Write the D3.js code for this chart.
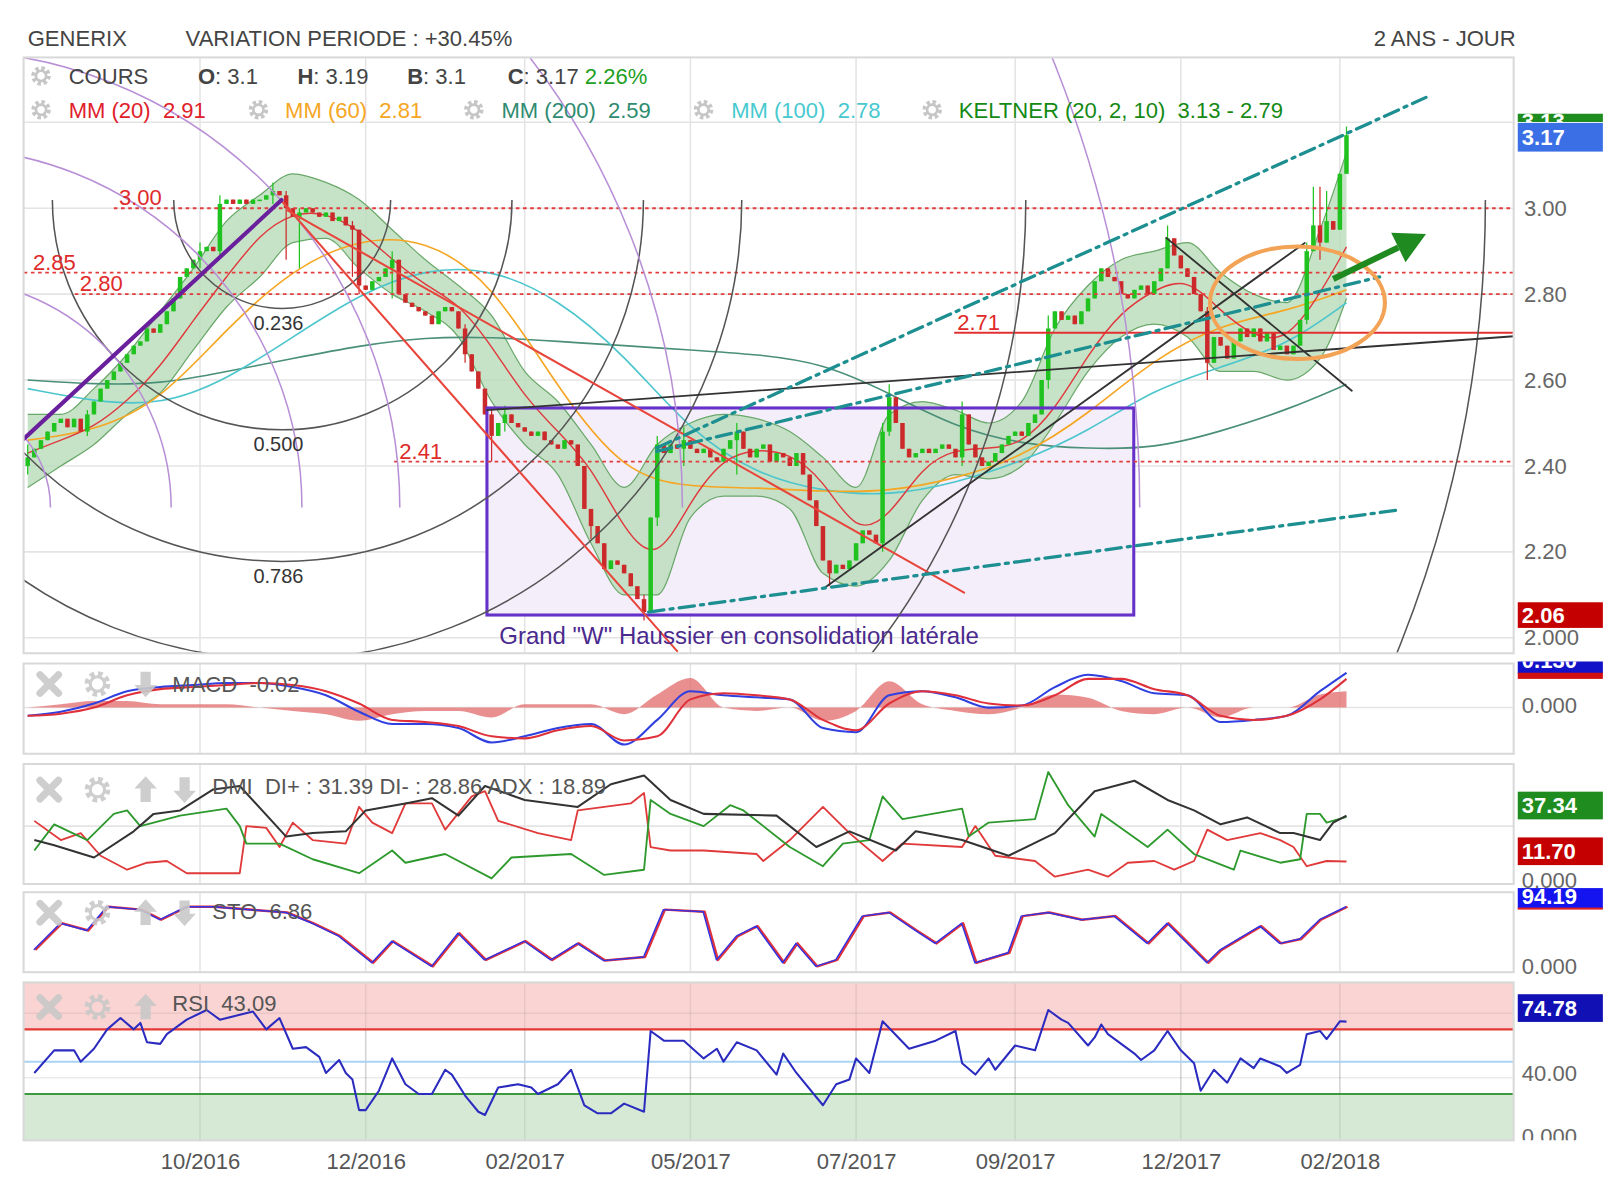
<!DOCTYPE html>
<html>
<head>
<meta charset="utf-8">
<script src="https://cdn.jsdelivr.net/npm/d3@7"></script>
<style>
  html, body { margin: 0; padding: 0; background: #fff; }
  svg { display: block; font-family: "Liberation Sans", Arial, sans-serif; }
</style>
</head>
<body>
<svg id="chart" width="1608" height="1186" viewBox="0 0 1568 1156.5"></svg>
<script>
// ---- data ----
const tickIdx = [26, 51, 75, 100, 125, 149, 174, 198];
const tickLabels = ["10/2016", "12/2016", "02/2017", "05/2017", "07/2017", "09/2017", "12/2017", "02/2018"];

const firstOpen = 2.40;
const closes = [
  2.42,2.44,2.46,2.48,2.50,2.51,2.49,2.51,2.48,2.52,
  2.55,2.58,2.60,2.62,2.64,2.66,2.68,2.69,2.72,2.71,
  2.73,2.76,2.79,2.84,2.86,2.88,2.90,2.91,2.90,3.01,
  3.02,3.01,3.02,3.01,3.02,3.02,3.03,3.04,3.03,3.00,
  2.98,2.99,3.00,2.99,2.98,2.99,2.97,2.98,2.96,2.95,
  2.82,2.81,2.83,2.84,2.86,2.88,2.80,2.78,2.77,2.76,
  2.75,2.73,2.76,2.77,2.76,2.72,2.66,2.62,2.58,2.52,
  2.47,2.50,2.52,2.50,2.49,2.48,2.47,2.48,2.46,2.45,
  2.44,2.46,2.45,2.40,2.30,2.26,2.22,2.16,2.18,2.17,
  2.15,2.12,2.09,2.06,2.28,2.45,2.43,2.45,2.44,2.46,
  2.44,2.43,2.44,2.42,2.41,2.44,2.46,2.48,2.44,2.42,
  2.44,2.45,2.41,2.43,2.42,2.40,2.43,2.38,2.32,2.26,
  2.18,2.15,2.17,2.16,2.18,2.22,2.25,2.24,2.22,2.48,
  2.56,2.50,2.44,2.42,2.43,2.44,2.43,2.44,2.45,2.44,
  2.42,2.52,2.45,2.42,2.40,2.41,2.43,2.45,2.47,2.48,
  2.47,2.50,2.52,2.60,2.72,2.76,2.74,2.75,2.73,2.76,
  2.79,2.83,2.86,2.84,2.83,2.80,2.79,2.81,2.82,2.80,
  2.83,2.86,2.93,2.89,2.86,2.84,2.80,2.76,2.64,2.70,
  2.68,2.65,2.69,2.72,2.70,2.72,2.69,2.71,2.67,2.68,
  2.66,2.68,2.74,2.90,2.96,2.92,2.97,2.95,3.08,3.17
];
// [index, high, low] for candles with visible wicks
const wicks = [
  [0,2.45,2.38],[9,2.53,2.47],[26,2.92,2.86],[29,3.03,2.89],[37,3.06,3.01],[39,3.04,2.88],
  [41,3.00,2.86],[49,2.97,2.84],[50,2.95,2.80],[55,2.90,2.79],[66,2.73,2.64],[70,2.53,2.41],
  [72,2.54,2.48],[85,2.30,2.23],[93,2.10,2.04],[95,2.47,2.26],[99,2.49,2.40],[107,2.50,2.38],
  [121,2.18,2.12],[129,2.50,2.20],[130,2.59,2.47],[141,2.55,2.40],[154,2.75,2.58],[172,2.96,2.86],
  [178,2.77,2.60],[193,2.92,2.73],[194,3.05,2.90],[195,3.05,2.88],[196,3.04,2.92],[199,3.19,3.10]
];

const maIdx = [0,10,20,30,40,50,60,70,80,90,100,110,120,130,140,150,160,170,180,190,199];
const ma60  = [2.46,2.48,2.55,2.72,2.86,2.93,2.93,2.83,2.58,2.38,2.35,2.35,2.34,2.34,2.37,2.42,2.52,2.65,2.73,2.76,2.81];
const ma100 = [2.58,2.55,2.54,2.60,2.70,2.80,2.86,2.86,2.79,2.66,2.48,2.38,2.34,2.33,2.36,2.41,2.48,2.58,2.63,2.68,2.78];
const ma200 = [2.60,2.59,2.59,2.62,2.65,2.68,2.70,2.70,2.69,2.68,2.67,2.66,2.64,2.57,2.49,2.45,2.44,2.44,2.48,2.53,2.59];

const idx5 = [0,5,10,15,20,25,30,35,40,45,50,55,60,65,70,75,80,85,90,95,100,105,110,115,120,125,130,135,140,145,150,155,160,165,170,175,180,185,190,195,199];
const ma20 = [2.43,2.46,2.49,2.55,2.63,2.74,2.84,2.94,2.99,2.99,2.95,2.88,2.82,2.78,2.68,2.56,2.48,2.40,2.25,2.17,2.32,2.42,2.44,2.43,2.37,2.24,2.28,2.40,2.44,2.44,2.45,2.53,2.66,2.76,2.81,2.84,2.76,2.70,2.69,2.80,2.91];
const keltUp = [2.52,2.52,2.58,2.66,2.76,2.86,2.97,3.03,3.08,3.06,3.02,2.95,2.88,2.82,2.75,2.62,2.55,2.45,2.35,2.45,2.50,2.52,2.51,2.48,2.42,2.35,2.52,2.55,2.53,2.50,2.55,2.72,2.82,2.88,2.90,2.92,2.85,2.80,2.78,2.95,3.13];
const keltLo = [2.35,2.40,2.45,2.52,2.57,2.67,2.77,2.84,2.92,2.93,2.86,2.80,2.76,2.70,2.55,2.45,2.38,2.22,2.10,2.10,2.28,2.33,2.33,2.30,2.15,2.12,2.18,2.32,2.38,2.37,2.40,2.50,2.62,2.70,2.73,2.70,2.62,2.62,2.60,2.65,2.79];

const macd   = [-0.02,-0.01,0.01,0.04,0.05,0.055,0.06,0.06,0.05,0.03,-0.01,-0.04,-0.04,-0.05,-0.085,-0.07,-0.05,-0.04,-0.09,-0.03,0.04,0.03,0.025,0.02,-0.05,-0.06,0.03,0.04,0.025,0.0,0.005,0.05,0.08,0.065,0.035,0.03,-0.035,-0.03,-0.02,0.04,0.085];
const signal = [-0.02,-0.015,0.0,0.03,0.045,0.05,0.055,0.06,0.055,0.04,0.01,-0.03,-0.035,-0.045,-0.07,-0.075,-0.055,-0.045,-0.08,-0.07,0.02,0.035,0.03,0.02,-0.03,-0.055,0.01,0.04,0.03,0.01,0.005,0.03,0.07,0.07,0.045,0.03,-0.02,-0.03,-0.02,0.02,0.07];
const hist   = [0,0.005,0.01,0.01,0.005,0.005,0.005,0,-0.005,-0.01,-0.02,-0.01,-0.005,-0.005,-0.015,0.005,0.005,0.005,-0.01,0.02,0.045,0,-0.005,0,-0.02,-0.005,0.04,0.005,-0.005,-0.01,0,0.02,0.015,-0.005,-0.01,0,-0.015,0,0,0.02,0.025];

const diPlusIdx = [1,4,9,13,15,17,23,30,32,33,38,43,50,55,57,63,70,73,82,87,93,94,97,102,106,108,115,120,123,127,129,132,141,142,145,152,154,157,161,162,169,172,176,182,183,189,192,193,195,196,199];
const diPlus    = [18,33,24,39,41,32,38,42,32,22,22,13,5,18,11,16,2,14,16,4,7,47,39,32,44,41,20,9,22,24,49,36,42,26,34,36,63,44,26,39,20,30,16,7,18,11,13,39,39,34,37.34];
const diMinusIdx = [1,5,8,11,15,18,21,24,32,33,36,38,40,43,48,50,52,55,57,61,63,67,69,71,77,82,83,91,93,94,97,102,110,111,115,120,124,129,132,141,143,146,152,155,160,163,166,170,173,176,178,181,186,189,191,193,196,199];
const diMinus    = [35,24,28,15,7,11,12,5,5,32,31,20,34,24,22,43,34,28,45,45,30,49,52,35,28,24,41,45,51,20,18,18,16,12,24,43,28,12,22,20,32,15,12,3,7,3,11,12,7,12,30,24,28,24,20,9,12,11.7];
const adxIdx = [1,4,10,16,19,23,28,32,39,43,48,51,57,61,65,69,75,83,88,93,97,102,113,119,124,131,134,141,148,155,161,167,172,176,180,184,189,191,195,197,199];
const adx    = [24,21,14,29,39,41,53,55,26,28,29,41,45,48,38,55,47,43,56,61,47,39,38,20,29,18,29,24,15,28,52,58,47,41,33,37,28,28,24,34,38];

const stoIdx = [1,5,9,12,17,20,24,28,39,43,47,52,55,61,65,69,75,79,83,87,93,96,102,104,107,110,114,116,119,122,126,130,134,137,141,143,148,150,154,159,164,169,172,178,180,186,189,192,195,199];
const sto    = [24,61,51,84,80,66,84,84,76,61,43,6,36,1,47,10,36,10,33,9,14,80,77,10,43,57,6,33,1,10,71,76,51,33,61,6,20,71,76,66,71,33,61,6,24,57,33,39,66,84];

const rsiIdx = [1,4,7,8,10,12,14,16,17,18,20,21,24,27,29,34,36,38,40,42,44,45,47,48,49,50,51,53,55,57,59,61,63,64,66,68,69,71,74,76,77,80,82,84,86,88,90,93,94,96,99,102,104,105,107,110,113,114,116,120,122,124,125,127,129,133,137,140,141,143,145,146,149,152,154,156,157,160,161,162,163,167,168,170,172,174,176,177,179,181,183,185,186,189,190,192,193,195,196,198,199];
const rsi    = [43,57,57,50,58,70,77,70,74,62,61,67,76,82,76,81,70,77,58,59,53,43,51,43,39,20,20,32,52,36,30,30,45,42,29,19,17,34,36,34,30,36,45,23,18,18,24,19,69,63,63,52,58,50,62,57,42,55,43,23,36,39,52,43,75,58,63,69,49,42,52,45,60,57,82,76,74,60,65,73,67,55,51,57,69,57,49,32,45,37,52,46,52,47,43,48,67,69,64,75,74.78];

// support / resistance levels: [price, start index]
const dottedLevels = [[3.00, 13.0], [2.85, -0.6], [2.80, 7.1], [2.41, 55.3]];
const solidLevel = [2.71, 139.8];
// trend lines: [idx1, price1, idx2, price2]
const purpleLine = [-0.6, 2.463, 38.3, 3.019];
const redLines = [[38.2, 3.019, 98.0, 1.969], [39.2, 2.995, 141.3, 2.105]];
const blackLines = [[69.3, 2.530, 224.3, 2.702], [120.1, 2.115, 192.7, 2.919], [171.8, 2.931, 199.8, 2.575]];
const tealLines = [[94.9, 2.442, 211.0, 3.258], [94.9, 2.434, 204.0, 2.840], [93.7, 2.060, 207.1, 2.298]];
const wBox = [69.3, 2.535, 166.9, 2.053];
const fibLevels = [0.236, 0.5, 0.786, 1, 1.618, 2.618];
const fibLabels = ["0.236", "0.500", "0.786"];
const fibBlack = {i: 38.4, p: 3.019, r: 69.35};
const fibPurple = {i: -12.85, p: 2.303, r: 69.0};

// ---- layout ----
const FS = 21.5;
const svg = d3.select("#chart");
const X0 = 23, X1 = 1476;
const P = {
  main: {top: 56, bottom: 637},
  macd: {top: 647, bottom: 735},
  dmi:  {top: 745, bottom: 862},
  sto:  {top: 870, bottom: 948},
  rsi:  {top: 958, bottom: 1112}
};
const x = d3.scaleLinear().domain([0, 199]).range([27, 1313]);
const y = d3.scaleLinear().domain([1.964, 3.351]).range([P.main.bottom, P.main.top]);
const yMacd = d3.scaleLinear().domain([-0.1125, 0.1075]).range([P.macd.bottom, P.macd.top]);
const yDmi = d3.scaleLinear().domain([-1.18, 67.6]).range([P.dmi.bottom, P.dmi.top]);
const ySto = d3.scaleLinear().domain([-7.14, 104.3]).range([P.sto.bottom, P.sto.top]);
const yRsi = d3.scaleLinear().domain([1.27, 99.05]).range([P.rsi.bottom, P.rsi.top]);

const defs = svg.append("defs");
Object.entries(P).forEach(([k, p]) => {
  defs.append("clipPath").attr("id", "clip-" + k)
    .append("rect").attr("x", X0).attr("y", p.top).attr("width", X1 - X0).attr("height", p.bottom - p.top);
});

svg.append("rect").attr("width", 1568).attr("height", 1157).attr("fill", "#fff");

// header
const header = svg.append("g").attr("fill", "#444").attr("font-size", FS);
header.append("text").attr("x", 27).attr("y", 45).text("GENERIX");
header.append("text").attr("x", 181).attr("y", 45).text("VARIATION PERIODE : +30.45%");
header.append("text").attr("x", 1478).attr("y", 45).attr("text-anchor", "end").text("2 ANS - JOUR");

// panel backgrounds + grids
function panelBase(key, hLines) {
  const p = P[key];
  const g = svg.append("g");
  g.append("rect").attr("x", X0).attr("y", p.top).attr("width", X1 - X0).attr("height", p.bottom - p.top)
    .attr("fill", "#fff");
  const grid = g.append("g").attr("clip-path", `url(#clip-${key})`);
  grid.selectAll("line.v").data(tickIdx).join("line")
    .attr("x1", d => x(d)).attr("x2", d => x(d)).attr("y1", p.top).attr("y2", p.bottom)
    .attr("stroke", "#e4e4e4").attr("stroke-width", 1.5);
  (hLines || []).forEach(h => {
    grid.append("line").attr("x1", X0).attr("x2", X1).attr("y1", h.y).attr("y2", h.y)
      .attr("stroke", h.c || "#e4e4e4").attr("stroke-width", h.w || 1.5);
  });
  return g;
}
function frame(key) {
  const p = P[key];
  svg.append("rect").attr("x", X0).attr("y", p.top).attr("width", X1 - X0).attr("height", p.bottom - p.top)
    .attr("fill", "none").attr("stroke", "#d9d9d9").attr("stroke-width", 2);
}

// ---- main panel ----
panelBase("main", [3.2, 3.0, 2.8, 2.6, 2.4, 2.2, 2.0].map(v => ({y: y(v)})));
const main = svg.append("g").attr("clip-path", "url(#clip-main)");

// consolidation box
main.append("rect")
  .attr("x", x(wBox[0])).attr("y", y(wBox[1]))
  .attr("width", x(wBox[2]) - x(wBox[0])).attr("height", y(wBox[3]) - y(wBox[1]))
  .attr("fill", "#f4eefb");

// Keltner band
const keltData = idx5.map((d, i) => ({i: d, up: keltUp[i], lo: keltLo[i]}));
main.append("path").datum(keltData)
  .attr("d", d3.area().x(d => x(d.i)).y0(d => y(d.lo)).y1(d => y(d.up)).curve(d3.curveMonotoneX))
  .attr("fill", "#b9dcb9").attr("fill-opacity", 0.8);
["up", "lo"].forEach(k => {
  main.append("path").datum(keltData)
    .attr("d", d3.line().x(d => x(d.i)).y(d => y(d[k])).curve(d3.curveMonotoneX))
    .attr("fill", "none").attr("stroke", "#6aa86a").attr("stroke-width", 1.2);
});

// moving averages
function maLine(idxArr, vals, color, w) {
  main.append("path").datum(idxArr.map((d, i) => [d, vals[i]]))
    .attr("d", d3.line().x(d => x(d[0])).y(d => y(d[1])).curve(d3.curveBasis))
    .attr("fill", "none").attr("stroke", color).attr("stroke-width", w);
}
maLine(maIdx, ma200, "#4a8f78", 1.6);
maLine(maIdx, ma100, "#4cc6cc", 1.6);
maLine(maIdx, ma60, "#f5a623", 1.6);
maLine(idx5, ma20, "#e0393e", 1.4);

// candles
const candles = closes.map((c, i) => {
  const o = i === 0 ? firstOpen : closes[i - 1];
  const w = wicks.find(k => k[0] === i);
  return {i, o, c, h: w ? w[1] : Math.max(o, c), l: w ? w[2] : Math.min(o, c)};
});
const bw = (x(1) - x(0)) * 0.68;
const cg = main.append("g");
cg.selectAll("line").data(candles).join("line")
  .attr("x1", d => x(d.i)).attr("x2", d => x(d.i))
  .attr("y1", d => y(d.h)).attr("y2", d => y(d.l))
  .attr("stroke", d => d.c >= d.o ? "#1fc21f" : "#cc2a2a").attr("stroke-width", 1.2);
cg.selectAll("rect").data(candles).join("rect")
  .attr("x", d => x(d.i) - bw / 2).attr("width", bw)
  .attr("y", d => y(Math.max(d.o, d.c)))
  .attr("height", d => Math.max(1.5, Math.abs(y(d.o) - y(d.c))))
  .attr("fill", d => d.c >= d.o ? "#1fc21f" : "#cc2a2a");

// box outline
main.append("rect")
  .attr("x", x(wBox[0])).attr("y", y(wBox[1]))
  .attr("width", x(wBox[2]) - x(wBox[0])).attr("height", y(wBox[3]) - y(wBox[1]))
  .attr("fill", "none").attr("stroke", "#6631c9").attr("stroke-width", 3);

// level lines
dottedLevels.forEach(([v, s]) => {
  main.append("line").attr("x1", x(s)).attr("x2", X1).attr("y1", y(v)).attr("y2", y(v))
    .attr("stroke", "#e23c3c").attr("stroke-width", 1.8).attr("stroke-dasharray", "3.5 3.5");
  svg.append("text").attr("x", x(s) + (v === 2.85 ? 9 : 5)).attr("y", y(v) - 3)
    .attr("fill", "#e02a2a").attr("font-size", FS).text(v.toFixed(2));
});
main.append("line").attr("x1", x(solidLevel[1])).attr("x2", X1)
  .attr("y1", y(solidLevel[0])).attr("y2", y(solidLevel[0]))
  .attr("stroke", "#e23030").attr("stroke-width", 1.8);
svg.append("text").attr("x", x(solidLevel[1]) + 3).attr("y", y(solidLevel[0]) - 3)
  .attr("fill", "#e02a2a").attr("font-size", FS).text(solidLevel[0].toFixed(2));

// Fibonacci arcs
function arcs(f, lower, color) {
  const cx = x(f.i), cy = y(f.p), R = x(f.r) - x(0);
  fibLevels.forEach(l => {
    const p = d3.path();
    if (lower) { p.moveTo(cx + R * l, cy); p.arc(cx, cy, R * l, 0, Math.PI); }
    else { p.moveTo(cx - R * l, cy); p.arc(cx, cy, R * l, Math.PI, 2 * Math.PI); }
    main.append("path").attr("d", p.toString()).attr("fill", "none")
      .attr("stroke", color).attr("stroke-width", 1.5);
  });
  return {cx, cy, R};
}
const fb = arcs(fibBlack, true, "#555");
arcs(fibPurple, false, "#b88fd6");
fibLabels.forEach((t, k) => {
  svg.append("text").attr("x", fb.cx - 28).attr("y", fb.cy + fb.R * fibLevels[k] + 21)
    .attr("fill", "#333").attr("font-size", 19.5).text(t);
});

function seg(s, color, w, dash) {
  main.append("line").attr("x1", x(s[0])).attr("y1", y(s[1])).attr("x2", x(s[2])).attr("y2", y(s[3]))
    .attr("stroke", color).attr("stroke-width", w).attr("stroke-dasharray", dash || null)
    .attr("stroke-linecap", "round");
}
redLines.forEach(s => seg(s, "#e8453c", 2));
blackLines.forEach(s => seg(s, "#333", 1.8));
tealLines.forEach(s => seg(s, "#1d8f91", 3.2, "15 6 3 6"));
seg(purpleLine, "#6a1f9c", 4);

// orange circle
main.append("ellipse").attr("cx", x(191.6)).attr("cy", y(2.78))
  .attr("rx", x(13.2) - x(0)).attr("ry", y(2.78 - 0.131) - y(2.78))
  .attr("fill", "none").attr("stroke", "#f3a356").attr("stroke-width", 4);

// green arrow
(() => {
  const a = [x(197), y(2.835)], b = [x(211), y(2.94)];
  const ang = Math.atan2(b[1] - a[1], b[0] - a[0]);
  const hl = 30, hw = 16;
  const base = [b[0] - hl * Math.cos(ang), b[1] - hl * Math.sin(ang)];
  const nx = -Math.sin(ang), ny = Math.cos(ang);
  main.append("line").attr("x1", a[0]).attr("y1", a[1]).attr("x2", base[0]).attr("y2", base[1])
    .attr("stroke", "#1f8a1f").attr("stroke-width", 6);
  main.append("path")
    .attr("d", `M${b[0]},${b[1]} L${base[0] + nx * hw},${base[1] + ny * hw} L${base[0] - nx * hw},${base[1] - ny * hw} Z`)
    .attr("fill", "#1f8a1f");
})();

svg.append("text").attr("x", x(wBox[0]) + 12).attr("y", y(wBox[3]) + 28)
  .attr("fill", "#4b2a8e").attr("font-size", 23.4)
  .text("Grand \"W\" Haussier en consolidation latérale");

frame("main");

// right axis of main panel
const axMain = svg.append("g").attr("transform", `translate(${X1 + 7},0)`)
  .call(d3.axisRight(y).tickValues([3.0, 2.8, 2.6, 2.4, 2.2, 2.0]).tickSize(0)
    .tickFormat(d => d === 2 ? "2.000" : d.toFixed(2)));
axMain.select(".domain").remove();
axMain.selectAll("text").attr("fill", "#666").attr("font-size", FS)
  .attr("font-family", "Liberation Sans, Arial, sans-serif");

function valBox(yc, h, color, label, clip, ty) {
  const g = svg.append("g");
  if (clip) g.attr("clip-path", clip);
  g.append("rect").attr("x", X1 + 4).attr("y", yc - h / 2).attr("width", 83).attr("height", h).attr("fill", color);
  g.append("text").attr("x", X1 + 8).attr("y", ty || yc + 7.5).attr("fill", "#fff").attr("font-size", FS)
    .attr("font-weight", "bold").text(label);
  return g;
}
defs.append("clipPath").attr("id", "clip-green").append("rect").attr("x", X1).attr("y", 111).attr("width", 100).attr("height", 8);
valBox(y(3.17) - 16, 26, "#1e8c1e", "3.13", "url(#clip-green)", 126);
valBox(y(3.17) + 2, 28, "#3a6fe6", "3.17");
valBox(y(2.06) + 3, 25, "#c40000", "2.06");

// legend
const lg = svg.append("g").attr("font-size", FS);
function gear(cx, cy) {
  const g = svg.append("g").attr("transform", `translate(${cx},${cy})`);
  g.append("circle").attr("r", 7.5).attr("fill", "none").attr("stroke", "#c6c6c6")
    .attr("stroke-width", 4).attr("stroke-dasharray", "3.3 2.6");
  g.append("circle").attr("r", 5).attr("fill", "none").attr("stroke", "#c6c6c6").attr("stroke-width", 2.6);
}
gear(40, 74);
lg.append("text").attr("x", 67).attr("y", 82).attr("fill", "#444").text("COURS");
[["O", ": 3.1", 193], ["H", ": 3.19", 290], ["B", ": 3.1", 397]].forEach(([k, v, px]) => {
  const t = lg.append("text").attr("x", px).attr("y", 82).attr("fill", "#444");
  t.append("tspan").attr("font-weight", "bold").text(k);
  t.append("tspan").text(v);
});
{
  const t = lg.append("text").attr("x", 495).attr("y", 82).attr("fill", "#444");
  t.append("tspan").attr("font-weight", "bold").text("C");
  t.append("tspan").text(": 3.17 ");
  t.append("tspan").attr("fill", "#22a022").text("2.26%");
}
[[40, 67, "MM (20)  2.91", "#e0202a"], [252, 278, "MM (60)  2.81", "#f5a623"],
 [462, 489, "MM (200)  2.59", "#2e8b70"], [686, 713, "MM (100)  2.78", "#47c9cf"],
 [909, 935, "KELTNER (20, 2, 10)  3.13 - 2.79", "#148a14"]].forEach(([gx, tx, t, c]) => {
  gear(gx, 107);
  lg.append("text").attr("x", tx).attr("y", 115).attr("fill", c).attr("xml:space", "preserve").text(t);
});

// ---- indicator panels ----
function icons(yc, list) {
  const g = svg.append("g").attr("fill", "#c9c9c9").attr("stroke", "#c9c9c9").attr("opacity", 0.9);
  list.forEach((k, n) => {
    const cx = [48, 95, 142, 180][n];
    if (k === "x") {
      g.append("path").attr("d", `M${cx - 9},${yc - 9} L${cx + 9},${yc + 9} M${cx + 9},${yc - 9} L${cx - 9},${yc + 9}`)
        .attr("stroke-width", 7).attr("stroke-linecap", "round").attr("fill", "none");
    } else if (k === "g") {
      g.append("circle").attr("cx", cx).attr("cy", yc).attr("r", 10).attr("fill", "none")
        .attr("stroke-width", 5).attr("stroke-dasharray", "4.4 3.5");
      g.append("circle").attr("cx", cx).attr("cy", yc).attr("r", 7).attr("fill", "none").attr("stroke-width", 3);
    } else {
      const s = k === "u" ? 1 : -1;
      g.append("path").attr("stroke", "none")
        .attr("d", `M${cx},${yc - 13 * s} L${cx + 11},${yc - 1 * s} L${cx + 5},${yc - 1 * s} L${cx + 5},${yc + 12 * s} L${cx - 5},${yc + 12 * s} L${cx - 5},${yc - 1 * s} L${cx - 11},${yc - 1 * s} Z`);
    }
  });
}
function label(tx, yc, t) {
  svg.append("text").attr("x", tx).attr("y", yc + 7.5).attr("fill", "#555").attr("font-size", FS)
    .attr("xml:space", "preserve").text(t);
}
function axisLabel(yc, t, clip) {
  const tx = svg.append("text").attr("x", X1 + 8).attr("y", yc + 7.5).attr("fill", "#666").attr("font-size", FS).text(t);
  if (clip) tx.attr("clip-path", clip);
}
function seriesLine(g, xs, vs, ys, color, w, dx) {
  g.append("path").datum(xs.map((d, i) => [d, vs[i]]))
    .attr("d", d3.line().x(d => x(d[0]) + (dx || 0)).y(d => ys(d[1])))
    .attr("fill", "none").attr("stroke", color).attr("stroke-width", w).attr("stroke-linejoin", "round");
}

// MACD
panelBase("macd", [{y: yMacd(0)}]);
const gm = svg.append("g").attr("clip-path", "url(#clip-macd)");
gm.append("path").datum(idx5.map((d, i) => [d, hist[i]]))
  .attr("d", d3.area().x(d => x(d[0])).y0(yMacd(0)).y1(d => yMacd(d[1] * 1.6)).curve(d3.curveMonotoneX))
  .attr("fill", "#e26a6a").attr("fill-opacity", 0.75);
gm.append("path").datum(idx5.map((d, i) => [d, macd[i]]))
  .attr("d", d3.line().x(d => x(d[0])).y(d => yMacd(d[1])).curve(d3.curveMonotoneX))
  .attr("fill", "none").attr("stroke", "#2f3fe0").attr("stroke-width", 2);
gm.append("path").datum(idx5.map((d, i) => [d, signal[i]]))
  .attr("d", d3.line().x(d => x(d[0])).y(d => yMacd(d[1])).curve(d3.curveMonotoneX))
  .attr("fill", "none").attr("stroke", "#e0303a").attr("stroke-width", 2);
frame("macd");
icons(667, ["x", "g", "d"]);
label(168, 667, "MACD  -0.02");
axisLabel(yMacd(0) - 2, "0.000");
defs.append("clipPath").attr("id", "clip-macdbox").append("rect").attr("x", X1).attr("y", 645).attr("width", 100).attr("height", 20);
valBox(649, 16, "#1212c8", "0.130", "url(#clip-macdbox)", 651);
svg.append("rect").attr("x", X1 + 4).attr("y", 656).attr("width", 83).attr("height", 6).attr("fill", "#d01010");

// DMI
panelBase("dmi", [{y: yDmi(32)}]);
const gd = svg.append("g").attr("clip-path", "url(#clip-dmi)");
seriesLine(gd, diMinusIdx, diMinus, yDmi, "#e03a3a", 1.8);
seriesLine(gd, diPlusIdx, diPlus, yDmi, "#2e9a2e", 1.8);
seriesLine(gd, adxIdx, adx, yDmi, "#333", 2);
frame("dmi");
icons(770, ["x", "g", "u", "d"]);
label(207, 767, "DMI  DI+ : 31.39 DI- : 28.86 ADX : 18.89");
valBox(yDmi(37.34) - 11, 27, "#1e8c1e", "37.34");
valBox(yDmi(11.7) - 10, 27, "#c40000", "11.70");
axisLabel(yDmi(0) - 2, "0.000");

// STO
panelBase("sto", []);
const gs = svg.append("g").attr("clip-path", "url(#clip-sto)");
seriesLine(gs, stoIdx, sto, ySto, "#e0303a", 2.4, 1);
seriesLine(gs, stoIdx, sto, ySto, "#3333e6", 1.4, -0.5);
frame("sto");
icons(890, ["x", "g", "u", "d"]);
label(207, 889, "STO  6.86");
valBox(876, 20, "#1414f0", "94.19", null, 882);
svg.append("rect").attr("x", X1 + 4).attr("y", 885).attr("width", 83).attr("height", 2).attr("fill", "#e02020");
axisLabel(ySto(0) - 1, "0.000");

// RSI
panelBase("rsi", []);
const gr = svg.append("g").attr("clip-path", "url(#clip-rsi)");
gr.append("rect").attr("x", X0).attr("width", X1 - X0).attr("y", P.rsi.top).attr("height", yRsi(70) - P.rsi.top)
  .attr("fill", "#fad3d3");
gr.append("rect").attr("x", X0).attr("width", X1 - X0).attr("y", yRsi(30)).attr("height", P.rsi.bottom - yRsi(30))
  .attr("fill", "#d5e9d5");
gr.selectAll("line.v").data(tickIdx).join("line")
  .attr("x1", d => x(d)).attr("x2", d => x(d)).attr("y1", P.rsi.top).attr("y2", P.rsi.bottom)
  .attr("stroke", "#000").attr("stroke-opacity", 0.07).attr("stroke-width", 1.5);
[[80, "#000", 0.06, 1.5], [40, "#000", 0.08, 1.5], [50, "#a9d3f2", 1, 2], [70, "#e53935", 1, 2], [30, "#3c9a3c", 1, 2]]
  .forEach(([v, c, o, w]) => {
    gr.append("line").attr("x1", X0).attr("x2", X1).attr("y1", yRsi(v)).attr("y2", yRsi(v))
      .attr("stroke", c).attr("stroke-opacity", o).attr("stroke-width", w);
  });
seriesLine(gr, rsiIdx, rsi, yRsi, "#2b2bc0", 2);
frame("rsi");
icons(982, ["x", "g", "u"]);
label(168, 978, "RSI  43.09");
valBox(983, 27, "#1010b4", "74.78");
axisLabel(yRsi(40) - 4, "40.00");
defs.append("clipPath").attr("id", "clip-rsiax").append("rect").attr("x", X1).attr("y", 1090).attr("width", 100).attr("height", 22);
axisLabel(1108, "0.000", "url(#clip-rsiax)");

// x axis
const ax = svg.append("g").attr("transform", `translate(0,${P.rsi.bottom + 10})`)
  .call(d3.axisBottom(x).tickValues(tickIdx).tickSize(0).tickFormat((d, i) => tickLabels[i]));
ax.select(".domain").remove();
ax.selectAll("text").attr("fill", "#555").attr("font-size", FS)
  .attr("font-family", "Liberation Sans, Arial, sans-serif");
</script>
</body>
</html>
